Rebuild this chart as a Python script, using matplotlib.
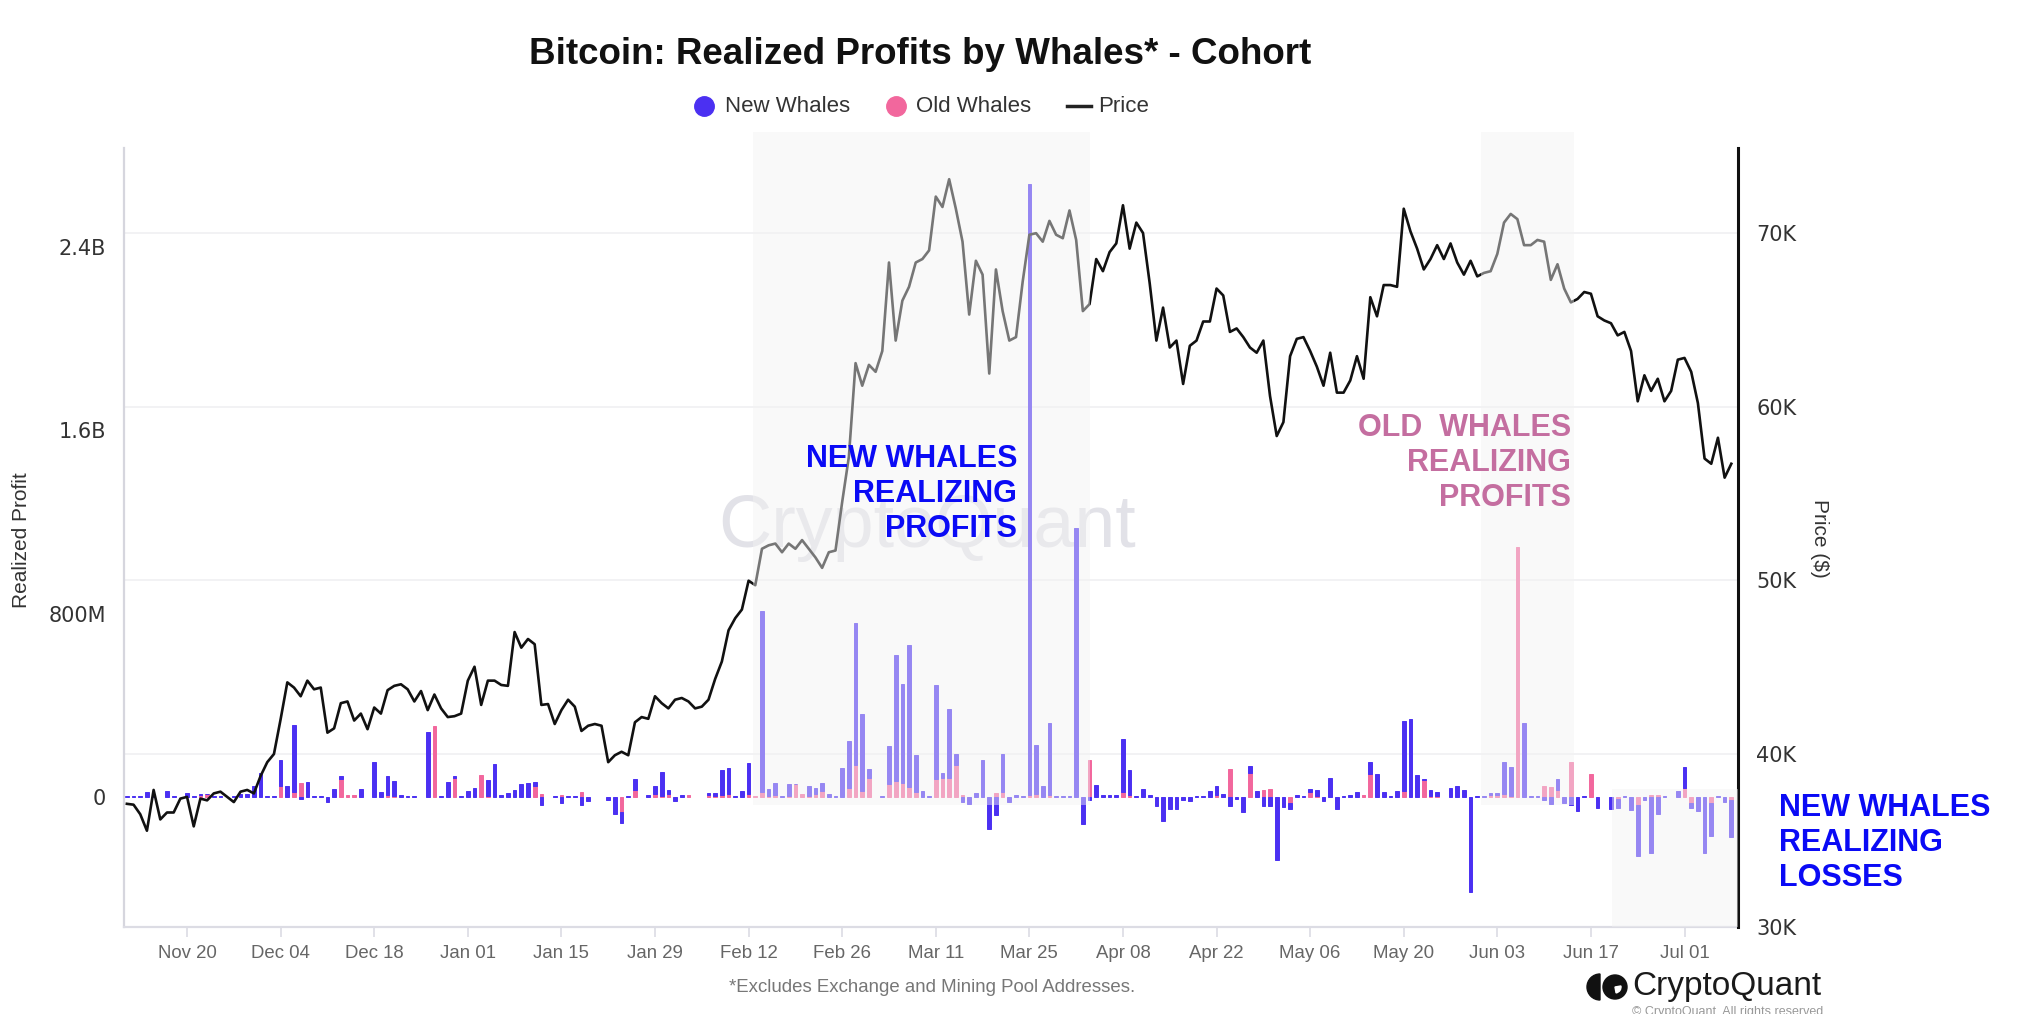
import matplotlib
matplotlib.use("Agg")
import matplotlib.pyplot as plt
import matplotlib.transforms as mtransforms
import matplotlib.dates as mdates
from matplotlib import font_manager as fm
from matplotlib.patches import Rectangle, Wedge, Circle
from matplotlib.lines import Line2D
import numpy as np
import pandas as pd

# ---- data ----
dates = pd.date_range("2023-11-11", "2024-07-08", freq="D")

# BTC price, thousands of $
price_k = [
    37.1, 37.05, 36.5, 35.55, 37.9, 36.2, 36.6, 36.6, 37.4,
    37.5, 35.8, 37.4, 37.3, 37.7, 37.8, 37.5, 37.2, 37.8, 37.9, 37.7,
    38.7, 39.5, 39.97, 41.98, 44.1, 43.8, 43.3, 44.2, 43.7, 43.8, 41.2, 41.45, 42.9, 43.0, 41.9, 42.3,
    41.4, 42.65, 42.3, 43.65, 43.9, 43.99, 43.7, 43.0, 43.6, 42.5, 43.4, 42.6, 42.1, 42.15, 42.3,
    44.2, 45.0, 42.8, 44.2, 44.2, 43.95, 43.9, 47.0, 46.1, 46.6, 46.3, 42.8, 42.85, 41.7, 42.5, 43.1,
    42.7, 41.3, 41.6, 41.7, 41.6, 39.5, 39.9, 40.1, 39.9, 41.8, 42.1, 42.0, 43.3, 42.9, 42.6,
    43.1, 43.2, 43.0, 42.6, 42.7, 43.1, 44.3, 45.3, 47.1, 47.8, 48.3, 49.96, 49.7, 51.8, 52.0,
    52.1, 51.6, 52.1, 51.8, 52.3, 51.8, 51.3, 50.7, 51.6, 51.7, 54.5, 57.1, 62.5, 61.2,
    62.4, 62.0, 63.2, 68.3, 63.8, 66.1, 66.9, 68.3, 68.5, 69.0, 72.1, 71.5, 73.1, 71.4, 69.5, 65.3,
    68.4, 67.6, 61.9, 67.9, 65.5, 63.8, 64.0, 67.2, 69.9, 69.99, 69.5, 70.7, 69.9, 69.7, 71.3,
    69.6, 65.5, 65.9, 68.5, 67.8, 68.9, 69.4, 71.6, 69.1, 70.6, 70.0, 67.1, 63.8, 65.7, 63.4,
    63.8, 61.3, 63.5, 63.8, 64.9, 64.9, 66.8, 66.4, 64.3, 64.5, 64.0, 63.4, 63.1, 63.8, 60.6,
    58.3, 59.1, 62.9, 63.9, 64.0, 63.2, 62.3, 61.2, 63.1, 60.8, 60.8, 61.5, 62.9, 61.6, 66.3, 65.2,
    67.0, 67.0, 66.9, 71.4, 70.1, 69.1, 67.9, 68.5, 69.3, 68.5, 69.4, 68.3, 67.6, 68.4, 67.5,
    67.7, 67.8, 68.8, 70.6, 71.1, 70.8, 69.3, 69.3, 69.6, 69.5, 67.3, 68.2, 66.8, 66.0, 66.2,
    66.6, 66.5, 65.2, 64.96, 64.8, 64.1, 64.3, 63.2, 60.3, 61.8, 60.9, 61.6, 60.3, 60.9, 62.7,
    62.8, 62.0, 60.2, 57.0, 56.7, 58.2, 55.9, 56.7,
]

# realized profit, millions of $
old_whales = [
    0, 0, 0, 0, 0, 0, 0, 0, 0,
    0, 0, 10, 12, 0, 0, 0, 0, 0, 0, 0, 0, 0, 0, 46, 0, 22, 61, 0, 0, 0, 0, 0, 80, 10, 10, 0, 0, 0, 0, 10,
    5, 0, 0, 0, 0, 0, 310, 0, 0, 85, 0, 0, 0, 97, 5, 0, 0, 0, 0, 0, 0, 48, 12, 0, 0, 7, 0, 0, 22, 0,
    0, 0, 0, 0, -65, 0, 29, 0, 0, 14, 5,
    14, 0, 0, 7, 0, 0, 7, 3, 7, 14, 0, 0, 14, 5, 22, 5, 10, 0, 5, 55, 12, 5, 14, 25, 0, 0, 0, 41,
    138, 25, 83, 0, 0, 58, 68, 62, 44, 22, 0, 0,
    80, 83, 83, 141, 10, 0, 0, 0, 0, 17, 22, 0, 0, 0, 7, 14, 0, 7, 0, 0, 0, 0, 0, 160, 0, 0, 0, 0,
    22, 10, 0, 0, 0, 0, 0, 0, 0, 0, 0, 0, 0,
    0, 10, 0, 121, 0, 0, 106, 0, 32, 36, 0, 0, -25, 0, 0, 22, 5, 0, 0, 0, 0, 0, 0, 10, 102, 0, 0,
    0, 0, 25, 0, 0, 73, 5, 5, 0, 0, 0, 0, 0,
    0, 0, 10, 10, 14, 5, 1090, 0, 0, 0, 48, 44, 29, 0, 153, 0, 0, 102, 0, 0, 0, -7, 0, 0, -36, 0,
    10, 7, 0, 0, 0, 39, -25, 0, 0, -25, 0, 0, -12,
]
new_whales = [
    3, 3, 3, 22, 3, 0, 26, 3, 0,
    17, 3, 5, 3, 3, 3, 0, 3, 12, 12, 48, 106, 5, 3, 116, 46, 294, -7, 65, 4, 3, -22, 36, 10, 0, 0,
    33, 0, 153, 22, 80,
    65, 10, 3, 3, 0, 283, 0, 3, 65, 5, 3, 26, 39, 0, 70, 142, 7, 17, 32, 55, 61, 17, -33, 0, 3,
    -28, 3, 3, -33, -17, 0, 0, -15, -73, -47, 3, 51, 0, 10, 32, 102,
    15, -17, 10, 0, 0, 0, 10, 15, 109, 112, 3, 25, 134, 0, 790, 31, 51, 5, 50, 3, 0, 43, 25, 36,
    12, 3, 126, 202, 622, 336, 38, 0, 3, 163, 552, 432, 618, 160, 26, 3,
    410, 23, 300, 48, -22, -29, 17, 160, -138, -77, 167, -22, 7, 3, 2667, 211, 48, 317, 3, 3, 3,
    1173, -116, -12, 54, 7, 10, 7, 233, 106, 3, 36, 10, -39, -106, -54, -54, -12, -17, 3, 3,
    25, 38, 12, -39, -10, -65, 28, 25, -39, -39, -276, -44, -26, 7, 3, 15, 27, -17, 84, -51, 3, 7,
    22, 0, 51, 102, 22, 3, 26, 307, 339, 94, 7, 27, 17, 0, 39, 48, 32, -414,
    3, 3, 8, 8, 138, 126, 0, 324, 3, 3, -15, -29, 51, -25, -36, -61, 3, 0, -46, 0, -51, -39, 3,
    -58, -221, -12, -243, -73, 3, 0, 26, 92, -23, -62, -243, -145, 3, -22, -163,
]

tick_dates = pd.date_range("2023-11-20", periods=17, freq="14D")
left_ticks = [0, 800e6, 1.6e9, 2.4e9]
left_labels = ["0", "800M", "1.6B", "2.4B"]
right_ticks = [30000, 40000, 50000, 60000, 70000]
right_labels = ["30K", "40K", "50K", "60K", "70K"]

BLUE = "#4b30f2"
PINK = "#f2679d"

W, H = 2018, 1014
def fx(px):
    return px / W
def fy(py):
    return 1 - py / H

names = {f.name for f in fm.fontManager.ttflist}
narrow = "Liberation Sans Narrow" if "Liberation Sans Narrow" in names else "Liberation Sans"
note_size = 26 if narrow == "Liberation Sans Narrow" else 22
plt.rcParams["font.family"] = ["Liberation Sans", "DejaVu Sans"]

fig = plt.figure(figsize=(W / 100, H / 100), dpi=100)
ax = fig.add_axes([fx(124), fy(927), (1738 - 124) / W, (927 - 148) / H])
ax2 = ax.twinx()

old = np.array(old_whales) * 1e6
new = np.array(new_whales) * 1e6
base = np.where(np.sign(new) == np.sign(old), old, 0)
m_old = old != 0
m_new = new != 0
ax.bar(dates[m_old], old[m_old], width=0.55, color=PINK, edgecolor=PINK, linewidth=0.7, zorder=2)
ax.bar(dates[m_new], new[m_new], width=0.55, bottom=base[m_new], color=BLUE,
       edgecolor=BLUE, linewidth=0.7, zorder=2)

ax2.plot(dates, np.array(price_k) * 1000, color="#111111", lw=1.9, zorder=3)

t0 = pd.Timestamp("2023-11-20")
ax.set_xlim(t0 - pd.Timedelta(days=9.43), t0 + pd.Timedelta(days=232.0))
ax.set_ylim(-567e6, 2831e6)
ax2.set_ylim(30000, 74900)

# price gridlines
gtr = mtransforms.blended_transform_factory(ax.transAxes, ax2.transData)
for p in right_ticks[1:]:
    ax.plot([0, 1], [p, p], transform=gtr, color="#f0f0f2", lw=1.2, zorder=0.5)

# watermark
ax.text(fx(927), fy(528), "CryptoQuant", transform=fig.transFigure, fontsize=53,
        color="#e2e2e8", ha="center", va="center", zorder=0.6)

# highlight overlays
def day(d):
    return mdates.date2num(t0 + pd.Timedelta(days=d))
xend = day(232.0)
for d0, d1, y0, y1 in [(84.7, 135.1, -35e6, 2901e6), (193.6, 207.4, -35e6, 2901e6),
                       (213.2, 232.0, -567e6, 35e6)]:
    x0 = day(d0)
    x1 = min(day(d1), xend)
    fig.add_artist(Rectangle((x0, y0), x1 - x0, y1 - y0, transform=ax.transData,
                             facecolor="#f2f2f2", edgecolor="none", alpha=0.45, zorder=5))

# axes styling
for s in ["top", "right"]:
    ax.spines[s].set_visible(False)
ax.spines["left"].set_color("#d6d6de")
ax.spines["left"].set_linewidth(1.6)
ax.spines["bottom"].set_color("#dcdce4")
ax.spines["bottom"].set_linewidth(1.6)
for s in ["top", "left", "bottom"]:
    ax2.spines[s].set_visible(False)
ax2.spines["right"].set_color("#111111")
ax2.spines["right"].set_linewidth(2.2)

ax.set_xticks(tick_dates)
ax.set_xticklabels([d.strftime("%b %d") for d in tick_dates])
ax.tick_params(axis="x", length=7, width=1.2, color="#dcdce4", labelcolor="#666666",
               labelsize=13.4, pad=6)
ax.set_yticks(left_ticks)
ax.set_yticklabels(left_labels, family="DejaVu Sans")
ax.tick_params(axis="y", length=0, labelsize=15, labelcolor="#333333", pad=13)
ax2.set_yticks(right_ticks)
ax2.set_yticklabels(right_labels, family="DejaVu Sans")
ax2.tick_params(axis="y", length=0, labelsize=15, labelcolor="#333333", pad=13)

fig.text(fx(22), fy(540), "Realized Profit", rotation=90, fontsize=15, color="#333333",
         ha="center", va="center")
fig.text(fx(1819), fy(538), "Price ($)", rotation=270, fontsize=15, color="#333333",
         ha="center", va="center")

# title and legend
fig.text(fx(920), fy(54), "Bitcoin: Realized Profits by Whales* - Cohort", fontsize=26.5,
         fontweight="bold", color="#111111", ha="center", va="center")
ly = fy(106)
fig.add_artist(Line2D([fx(704)], [ly], marker="o", markersize=14, color=BLUE,
                      transform=fig.transFigure))
fig.text(fx(725), ly, "New Whales", fontsize=16, color="#333333", va="center")
fig.add_artist(Line2D([fx(896)], [ly], marker="o", markersize=14, color=PINK,
                      transform=fig.transFigure))
fig.text(fx(916), ly, "Old Whales", fontsize=16, color="#333333", va="center")
fig.add_artist(Line2D([fx(1067), fx(1091)], [ly, ly], color="#222222", lw=2.5,
                      transform=fig.transFigure))
fig.text(fx(1098), ly, "Price", fontsize=16, color="#333333", va="center")

# annotations (above the highlight overlays)
fig.text(fx(1017), fy(494), "NEW WHALES\nREALIZING\nPROFITS", family=narrow, fontsize=note_size,
         fontweight="bold", color="#0a0af5", ha="right", va="center", multialignment="right",
         linespacing=1.2, zorder=8)
fig.text(fx(1571), fy(463), "OLD  WHALES\nREALIZING\nPROFITS", family=narrow, fontsize=note_size,
         fontweight="bold", color="#c46ea0", ha="right", va="center", multialignment="right",
         linespacing=1.2, zorder=8)
fig.text(fx(1779), fy(843), "NEW WHALES\nREALIZING\nLOSSES", family=narrow, fontsize=note_size,
         fontweight="bold", color="#0a0af5", ha="left", va="center", multialignment="left",
         linespacing=1.2, zorder=8)

# footer
fig.text(fx(932), fy(988), "*Excludes Exchange and Mining Pool Addresses.", fontsize=13.4,
         color="#777777", ha="center", va="center")
fig.text(fx(1632), fy(987), "CryptoQuant", fontsize=24, color="#1a1a1a", ha="left", va="center")
fig.text(fx(1729), fy(1006), "\u00a9 CryptoQuant. All rights reserved.", fontsize=9,
         color="#999999", ha="center", va="top")
inch = fig.dpi_scale_trans
fig.add_artist(Wedge((1600 / 100, (H - 987) / 100), 0.13, 90, 270, color="#111111",
                     transform=inch))
fig.add_artist(Circle((1615 / 100, (H - 987) / 100), 0.12, color="#111111", transform=inch))
fig.add_artist(Wedge((1615 / 100, (H - 987) / 100), 0.06, -80, 10, color="white",
                     transform=inch))

fig.savefig("out.png", dpi=100, facecolor="white")
